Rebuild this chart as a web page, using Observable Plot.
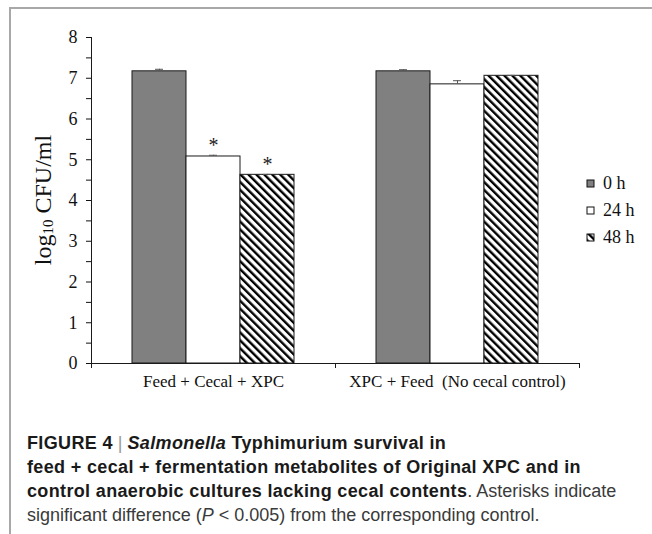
<!DOCTYPE html>
<html>
<head>
<meta charset="utf-8">
<script src="https://cdn.jsdelivr.net/npm/d3@7"></script>
<script src="https://cdn.jsdelivr.net/npm/@observablehq/plot@0.6"></script>
<style>
  html, body { margin: 0; padding: 0; width: 652px; height: 534px; overflow: hidden; background: #fff; }
  #frame { position: absolute; left: 9px; top: 7px; right: -5px; bottom: -5px; border-left: 2px solid #a8a8a8; border-top: 2px solid #a8a8a8; }
  #chart { position: absolute; left: 0; top: 0; }
  #chart svg text { font-family: "Liberation Serif", "Times New Roman", serif; }
  #legend { position: absolute; left: 587px; top: 170px; }
  #legend svg rect { stroke: #111; stroke-width: 1px; }
  #legend div { line-height: 27px; padding-bottom: 0 !important; margin: 0; color: #111; }
  #caption { position: absolute; left: 27px; top: 431px; font-family: "Liberation Sans", Arial, sans-serif; font-size: 18px; line-height: 24px; color: #3a3a3a; white-space: nowrap; }
  #caption b { color: #1a1a1a; font-weight: bold; letter-spacing: 0.35px; }
  #caption .sep { color: #999; font-weight: normal; }
</style>
</head>
<body>
<div id="frame"></div>
<div id="chart"></div>
<div id="legend"></div>
<div id="caption">
  <b>FIGURE 4</b><span class="sep"> | </span> <b><i>Salmonella</i> Typhimurium survival in</b><br>
  <b>feed + cecal + fermentation metabolites of Original XPC and in</b><br>
  <b>control anaerobic cultures lacking cecal contents</b>. Asterisks indicate<br>
  significant difference (<i>P</i> &lt; 0.005) from the corresponding control.
</div>
<script>
// ---- data ----
const groups = ["Feed + Cecal + XPC", "XPC + Feed\u00a0 (No cecal control)"];
const series = ["0 h", "24 h", "48 h"];
const feedCecalXPC = [7.17, 5.08, 4.63];
const xpcFeed = [7.17, 6.85, 7.06];
const errFeedCecalXPC = [0.05, 0.03, 0.01];
const errXpcFeed = [0.04, 0.09, 0.01];
const sigFeedCecalXPC = [false, true, true];
const sigXpcFeed = [false, false, false];
const yTicks = [0, 1, 2, 3, 4, 5, 6, 7, 8];
const yMinorTicks = [0.5, 1.5, 2.5, 3.5, 4.5, 5.5, 6.5, 7.5];
const seriesFills = ["#808080", "#ffffff", "url(#hatch48)"];

const groupValues = [feedCecalXPC, xpcFeed];
const groupErrs = [errFeedCecalXPC, errXpcFeed];
const groupSig = [sigFeedCecalXPC, sigXpcFeed];
const data = [];
groupValues.forEach((vals, gi) => vals.forEach((v, si) => data.push({
  group: groups[gi], series: series[si], value: v, err: groupErrs[gi][si], sig: groupSig[gi][si]
})));

const serif = '"Liberation Serif", "Times New Roman", serif';

const plot = Plot.plot({
  width: 652,
  height: 400,
  marginLeft: 90,
  marginRight: 73,
  marginTop: 37,
  marginBottom: 37,
  style: { fontFamily: serif, fontSize: "17px", color: "#111", background: "transparent", overflow: "visible" },
  fx: { domain: groups, padding: 0, label: null },
  x: { domain: series, paddingInner: 0, paddingOuter: 0.75, axis: null },
  y: { domain: [0, 8], label: null },
  color: { domain: series, range: seriesFills },
  marks: [
    Plot.barY(data, { fx: "group", x: "series", y: "value", fill: "series", stroke: "#1a1a1a", strokeWidth: 1 }),
    Plot.ruleX(data, { fx: "group", x: "series", y1: "value", y2: d => d.value + d.err, stroke: "#555" }),
    Plot.tickY(data, { fx: "group", x: "series", y: d => d.value + d.err, stroke: "#555", insetLeft: 23, insetRight: 23 }),
    Plot.text(data.filter(d => d.sig), { fx: "group", x: "series", y: d => d.value + d.err, text: () => "*", lineAnchor: "bottom", dy: -3, fontSize: 20, fill: "#222", fontFamily: serif }),
    Plot.axisY({ ticks: yTicks, tickSize: 5, tickPadding: 9, fontSize: 18, fontFamily: serif, label: null, tickFormat: d3.format("d") }),
    Plot.axisY({ ticks: yMinorTicks, tickSize: 5, tickFormat: () => "", label: null }),
    Plot.axisFx({ anchor: "bottom", tickSize: 0, tickPadding: 11, fontSize: 17, fontFamily: serif, label: null }),
    Plot.ruleY([0], { stroke: "#1a1a1a" })
  ]
});

// hatch pattern for 48 h
const svg = d3.select(plot);
const defs = svg.insert("defs", ":first-child");
const pat = defs.append("pattern")
  .attr("id", "hatch48")
  .attr("patternUnits", "userSpaceOnUse")
  .attr("width", 5.6).attr("height", 5.6)
  .attr("patternTransform", "rotate(-45)");
pat.append("rect").attr("width", 5.6).attr("height", 5.6).attr("fill", "#fff");
pat.append("rect").attr("width", 2.4).attr("height", 5.6).attr("fill", "#000");

// axis lines and category boundary ticks from the plot's scales
const fx = plot.scale("fx");
const y = plot.scale("y");
const x0 = fx.apply(groups[0]);
const y0 = y.apply(0), y8 = y.apply(8);
const axes = svg.append("g").attr("stroke", "#1a1a1a").attr("stroke-width", 1);
axes.append("line").attr("x1", x0 + 0.5).attr("x2", x0 + 0.5).attr("y1", y8).attr("y2", y0);
const bounds = [x0, ...groups.map(g => fx.apply(g) + fx.bandwidth)];
bounds.forEach(b => axes.append("line").attr("x1", b + 0.5).attr("x2", b + 0.5).attr("y1", y0).attr("y2", y0 + 5));

// y-axis title with subscript
const yt = svg.append("text")
  .attr("transform", `translate(45,${(y0 + y8) / 2}) rotate(-90)`)
  .attr("text-anchor", "middle")
  .attr("dominant-baseline", "middle")
  .attr("font-family", serif)
  .attr("font-size", 24)
  .attr("fill", "#111");
yt.append("tspan").text("log");
yt.append("tspan").attr("font-size", 15).attr("dy", 5).text("10");
yt.append("tspan").attr("dy", -5).text(" CFU/ml");

document.getElementById("chart").appendChild(plot);

const legend = plot.legend("color", {
  columns: 1,
  swatchSize: 7,
  style: { fontFamily: serif, fontSize: "18px", color: "#111" }
});
document.getElementById("legend").appendChild(legend);
</script>
</body>
</html>
